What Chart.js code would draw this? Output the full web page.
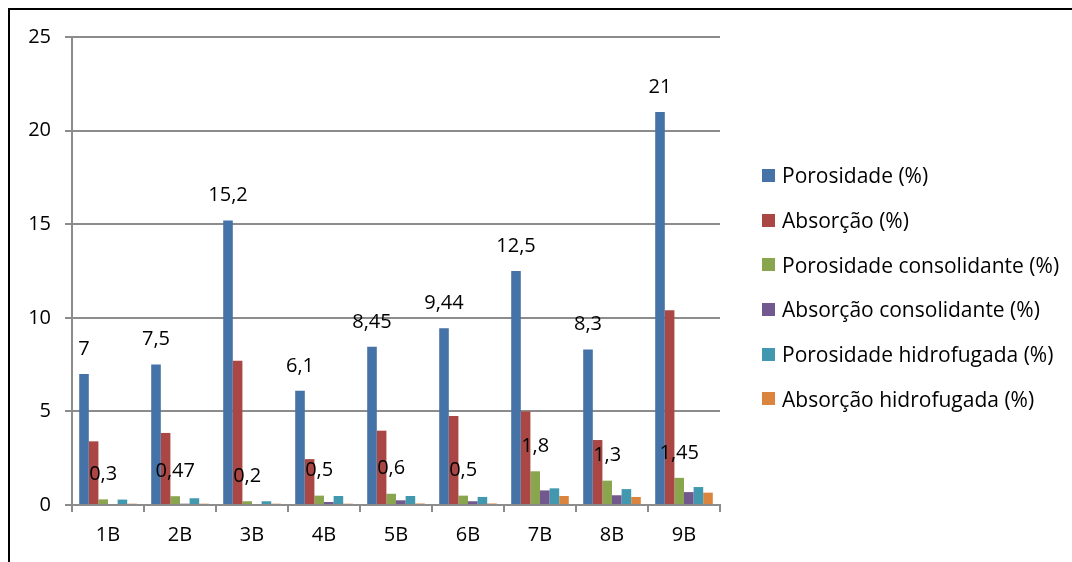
<!DOCTYPE html>
<html lang="pt">
<head>
    <meta charset="UTF-8">
    <title>Porosidade e absorção</title>
    <script src="https://cdn.jsdelivr.net/npm/chart.js@4.4.8/dist/chart.umd.min.js"></script>
    <style>
        body { margin: 0; background: #fff; overflow: hidden; }
        #frame { position: absolute; left: 8px; top: 8px; width: 1100px; height: 600px; border: 2px solid #000; }
        #wrap { position: absolute; left: 0; top: 0; width: 1072px; height: 562px; }
        #legend { position: absolute; left: 762px; top: 153px; font-family: "Open Sans", sans-serif; font-size: 21px; color: #000; }
        #legend div { height: 44.7px; display: flex; align-items: center; white-space: nowrap; }
        #legend span.box { width: 13px; height: 13px; margin-right: 7px; display: inline-block; }
    </style>
</head>
<body>
    <div id="frame"></div>
    <div id="wrap"><canvas id="chart" width="1072" height="562"></canvas></div>
    <div id="legend"></div>
    <script>
        const categories = ['1B', '2B', '3B', '4B', '5B', '6B', '7B', '8B', '9B'];
        const porosidade = [7, 7.5, 15.2, 6.1, 8.45, 9.44, 12.5, 8.3, 21];
        const absorcao = [3.4, 3.85, 7.7, 2.45, 3.97, 4.75, 5.0, 3.47, 10.4];
        const porosidadeConsolidante = [0.3, 0.47, 0.2, 0.5, 0.6, 0.5, 1.8, 1.3, 1.45];
        const absorcaoConsolidante = [0.05, 0.07, 0.05, 0.16, 0.25, 0.2, 0.78, 0.52, 0.69];
        const porosidadeHidrofugada = [0.29, 0.36, 0.2, 0.48, 0.48, 0.43, 0.89, 0.85, 0.96];
        const absorcaoHidrofugada = [0.07, 0.07, 0.07, 0.07, 0.08, 0.08, 0.48, 0.43, 0.66];

        const seriesNames = ['Porosidade (%)', 'Absorção (%)', 'Porosidade consolidante (%)',
            'Absorção consolidante (%)', 'Porosidade hidrofugada (%)', 'Absorção hidrofugada (%)'];
        const seriesValues = [porosidade, absorcao, porosidadeConsolidante,
            absorcaoConsolidante, porosidadeHidrofugada, absorcaoHidrofugada];
        const colors = ['#4572A7', '#AA4643', '#89A54E', '#71588F', '#4198AF', '#DB843D'];
        const labelledSeries = [0, 2];

        const FONT = '"Open Sans", sans-serif';
        const GRID = '#8c8c8c';

        // value labels above the bars, decimal comma like the original
        const valueLabels = {
            id: 'valueLabels',
            afterDatasetsDraw(chart) {
                const ctx = chart.ctx;
                ctx.save();
                ctx.font = '20px ' + FONT;
                ctx.fillStyle = '#000';
                ctx.textAlign = 'center';
                ctx.textBaseline = 'middle';
                labelledSeries.forEach(di => {
                    const meta = chart.getDatasetMeta(di);
                    meta.data.forEach((bar, i) => {
                        const v = chart.data.datasets[di].data[i];
                        ctx.fillText(String(v).replace('.', ','), bar.x, bar.y - 25);
                    });
                });
                ctx.restore();
            }
        };

        new Chart(document.getElementById('chart'), {
            type: 'bar',
            data: {
                labels: categories,
                datasets: seriesNames.map((name, i) => ({
                    label: name,
                    data: seriesValues[i],
                    backgroundColor: colors[i],
                    borderWidth: 0
                }))
            },
            options: {
                responsive: false,
                animation: false,
                datasets: { bar: { categoryPercentage: 0.8, barPercentage: 1 } },
                layout: { padding: { left: 0, top: 37, right: 352, bottom: 0 } },
                plugins: { legend: { display: false }, tooltip: { enabled: false } },
                scales: {
                    x: {
                        afterFit: s => { s.height = 57; },
                        grid: { drawOnChartArea: false, tickLength: 7, color: GRID, lineWidth: 2 },
                        border: { color: GRID, width: 2 },
                        ticks: { color: '#000', font: { family: FONT, size: 20 }, padding: 11 }
                    },
                    y: {
                        min: 0,
                        max: 25,
                        afterFit: s => { s.width = 72; },
                        grid: { tickLength: 7, color: GRID, lineWidth: 2 },
                        border: { color: GRID, width: 2 },
                        ticks: { stepSize: 5, color: '#000', font: { family: FONT, size: 20 }, padding: 14 }
                    }
                }
            },
            plugins: [valueLabels]
        });

        const legend = document.getElementById('legend');
        seriesNames.forEach((name, i) => {
            const row = document.createElement('div');
            const box = document.createElement('span');
            box.className = 'box';
            box.style.background = colors[i];
            row.appendChild(box);
            row.appendChild(document.createTextNode(name));
            legend.appendChild(row);
        });
    </script>
</body>
</html>
